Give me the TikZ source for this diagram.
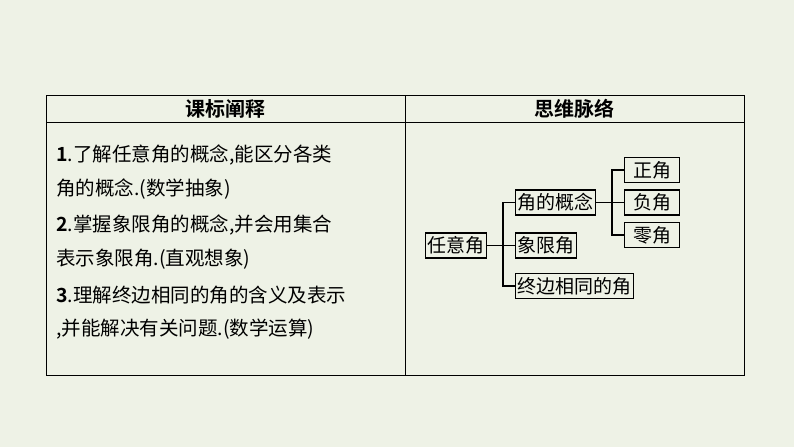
\documentclass[tikz,border=0pt]{standalone}
\usepackage{fontspec}
\newfontfamily\cjk{Noto Sans CJK SC}[BoldFont=Noto Sans CJK SC Bold]
\definecolor{bg}{HTML}{EEF2E6}
\tikzset{box/.style={draw,line width=1.4pt,inner xsep=2pt,inner ysep=0pt,minimum height=25pt,font=\cjk\fontsize{19}{19}\selectfont},
ln/.style={line width=1.4pt},
txt/.style={anchor=west,font=\cjk\fontsize{19.5}{19.5}\selectfont,inner sep=0},
hd/.style={font=\cjk\bfseries\fontsize{20}{20}\selectfont}}
\begin{document}
\begin{tikzpicture}[x=1pt,y=-1pt]
\fill[bg] (0,0) rectangle (794,447);
\useasboundingbox (0,0) rectangle (794,447);
\draw[line width=0.9pt] (46,95) rectangle (744,375);
\draw[line width=0.9pt] (46,122) -- (744,122) (405,95) -- (405,375);
\node[hd] (h1) at (225.5,108.5) {课标阐释};
\node[hd] (h2) at (574.5,108.5) {思维脉络};
\node[txt] (t1) at (56,155) {\textbf{1}.了解任意角的概念,能区分各类};
\node[txt] (t2) at (56,189) {角的概念.(数学抽象)};
\node[txt] (t3) at (56,225) {\textbf{2}.掌握象限角的概念,并会用集合};
\node[txt] (t4) at (56,259) {表示象限角.(直观想象)};
\node[txt] (t5) at (56,295) {\textbf{3}.理解终边相同的角的含义及表示};
\node[txt] (t6) at (56,329) {,并能解决有关问题.(数学运算)};
\node[box] (r) at (456,245.5) {任意角};
\node[box,anchor=west] (a) at (515,202.5) {角的概念};
\node[box,anchor=west] (x) at (515,245.5) {象限角};
\node[box,anchor=west] (z) at (515,286) {终边相同的角};
\node[box,anchor=west,minimum width=55pt] (p) at (624,170) {正角};
\node[box,anchor=west,minimum width=55pt] (n) at (624,202.5) {负角};
\node[box,anchor=west,minimum width=55pt] (o) at (624,235) {零角};
\draw[ln] (r.east) -- (x.west);
\draw[ln] (a.west) -| (503,245.5) |- (z.west);
\draw[ln] (a.east) -- (n.west);
\draw[ln] (p.west) -| (612,202.5) |- (o.west);
\end{tikzpicture}
\end{document}
